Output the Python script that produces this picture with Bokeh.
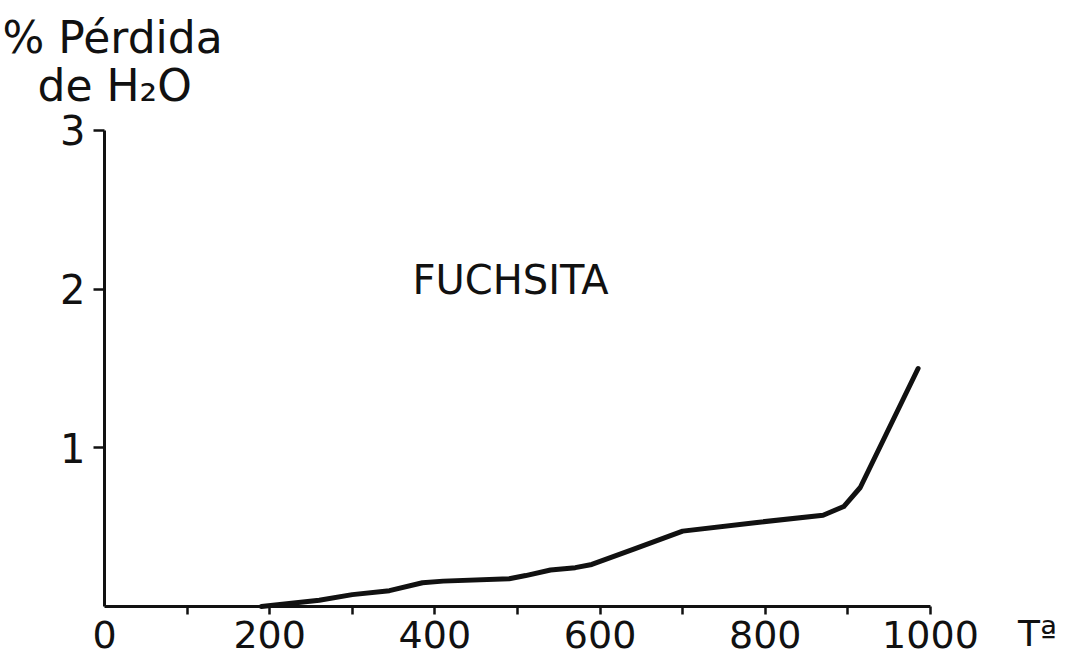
from bokeh.plotting import figure
from bokeh.models import Range1d, FixedTicker, Label, LinearAxis
from bokeh.embed import file_html
from bokeh.resources import INLINE

# Data (temperature, % water loss)
temps = [190, 260, 300, 345, 385, 410, 490, 510, 540, 570, 590, 640, 700, 790, 870, 895, 915, 985]
loss = [0.0, 0.04, 0.075, 0.10, 0.15, 0.16, 0.175, 0.195, 0.23, 0.245, 0.265, 0.36, 0.475, 0.53, 0.575, 0.63, 0.75, 1.50]

x_tick_values = [0, 200, 400, 600, 800, 1000]
x_tick_marks = [100, 200, 300, 400, 500, 600, 700, 800, 900, 1000]
y_tick_values = [1, 2, 3]

FONT = "DejaVu Sans"
FS = "40px"
INK = "#111111"

p = figure(width=1076, height=656, output_backend="svg", toolbar_location=None,
           x_range=Range1d(-125.9, 1176.8), y_range=Range1d(-0.315, 3.819),
           x_axis_location=None, y_axis_location=None,
           min_border_left=0, min_border_right=0, min_border_top=0,
           min_border_bottom=0)
p.outline_line_color = None
p.grid.visible = False
p.background_fill_color = "white"
p.border_fill_color = "white"

p.line(temps, loss, line_width=5, line_color=INK, line_join="round", line_cap="round")

xa = LinearAxis(fixed_location=0, bounds=(0, 1000))
xa.ticker = FixedTicker(ticks=x_tick_values, minor_ticks=x_tick_marks)
xa.axis_line_width = 3
xa.axis_line_color = INK
xa.major_tick_out = 0
xa.major_tick_in = 0
xa.minor_tick_out = 8
xa.minor_tick_in = 0
xa.minor_tick_line_width = 2.5
xa.minor_tick_line_color = INK
xa.major_label_standoff = 6
xa.major_label_text_font = FONT
xa.major_label_text_font_size = "38px"
xa.major_label_text_color = INK
p.add_layout(xa, "below")

ya = LinearAxis(fixed_location=0, bounds=(0, 3))
ya.ticker = FixedTicker(ticks=y_tick_values, minor_ticks=[])
ya.axis_line_width = 3
ya.axis_line_color = INK
ya.major_tick_out = 11
ya.major_tick_in = 0
ya.major_tick_line_width = 2.5
ya.major_tick_line_color = INK
ya.minor_tick_out = 0
ya.minor_tick_in = 0
ya.major_label_standoff = 8
ya.major_label_text_font = FONT
ya.major_label_text_font_size = FS
ya.major_label_text_color = INK
p.add_layout(ya, "left")

def add_text(x, y, txt, size=FS):
    p.add_layout(Label(x=x, y=y, text=txt, text_font=FONT, text_font_size=size,
                       text_color=INK, text_align="left", text_baseline="alphabetic"))

add_text(-123.5, 3.586, "% Pérdida", size="44px")
add_text(-81.1, 3.284, "de H₂O", size="44px")
add_text(372.9, 2.055, "FUCHSITA")
add_text(1106, -0.17, "Tª", size="36px")

open("out.html", "w").write(file_html(p, INLINE))
